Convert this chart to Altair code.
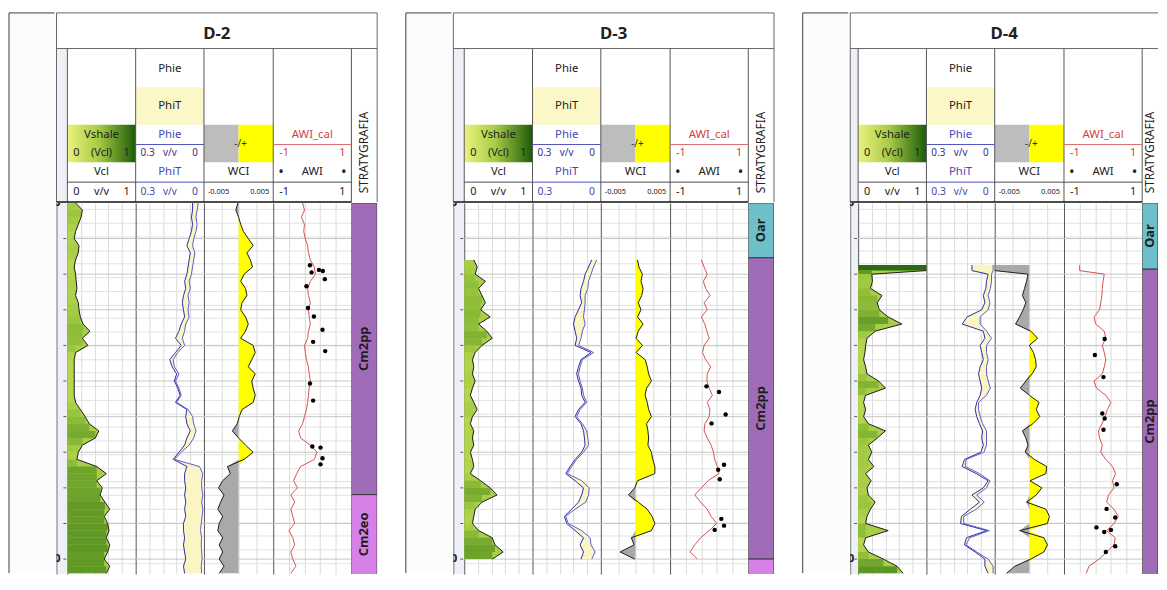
import altair as alt
import numpy as np
import pandas as pd

FONT = "Noto Sans"
STEP = 2.0
D_TOP, D_BOT = 1400.0, 1504.2
LOG_H = 375
HDR_H = 191
FRAME_W = 46

# ---------------- D-2 ----------------
D2_START = 1400.0
D2_VCL = [.12, .22, .20, .16, .12, .10, .17, .16, .12, .10,
          .12, .13, .14, .12, .16, .17, .19, .23, .33, .22,
          .30, .12, .10, .10, .10, .10, .10, .10, .12, .19,
          .26, .32, .46, .41, .22, .16, .14, .43, .57, .43,
          .51, .48, .55, .62, .54, .59, .61, .57, .62, .59,
          .54, .62, .57]
D2_PHIT = [.05, .05, .055, .05, .055, .065, .075, .06, .065, .07,
           .075, .085, .08, .09, .095, .09, .085, .10, .11, .125,
           .10, .125, .15, .14, .12, .13, .115, .105, .125, .075,
           .08, .075, .06, .075, .085, .11, .135, .075, .085, .085,
           .08, .085, .08, .085, .08, .09, .09, .085, .09, .085,
           .08, .09, .085]
D2_PHIE = [.025, .03, .035, .03, .035, .045, .05, .04, .045, .05,
           .055, .065, .06, .07, .065, .07, .065, .08, .085, .095,
           .085, .115, .135, .13, .11, .125, .11, .10, .12, .07,
           .05, .045, .035, .045, .065, .10, .13, .02, .005, .01,
           .01, .005, .01, .005, .008, .012, .015, .01, .012, .01,
           .008, .012, .01]
D2_WCI = [-0.0001, -0.0004, 0.0, 0.0003, 0.0007, 0.0014, 0.0021, 0.0012, 0.0017, 0.002,
          0.0008, 0.0003, 0.001, 0.0012, 0.0005, 0.0003, 0.001, 0.0014, 0.001, 0.0003,
          0.0021, 0.0024, 0.0019, 0.0014, 0.0024, 0.0019, 0.0021, 0.0024, 0.0021, 0.0005,
          0.0001, -0.0002, -0.0009, 0.0, 0.001, 0.0021, 0.0008, -0.0016, -0.0012, -0.0023,
          -0.0029, -0.0021, -0.0026, -0.003, -0.0023, -0.0028, -0.003, -0.0023, -0.0028, -0.0023,
          -0.0028, -0.0021, -0.0028]
D2_AWI_CAL = [-.25, -.2, -.28, -.2, -.22, -.18, -.12, -.1, -.05, .05,
              .08, -.05, -.12, -.1, -.05, -.1, -.08, -.05, -.1, -.12,
              -.2, -.18, -.15, -.1, -.08, -.05, -.08, -.1, -.12, -.15,
              -.2, -.25, -.35, -.3, -.05, .12, .05, -.3, -.4, -.48,
              -.38, -.55, -.45, -.55, -.5, -.45, -.6, -.5, -.45, -.55,
              -.5, -.42, -.55]
D2_AWI_DEPTH = [1417.5, 1418.8, 1419.1, 1419.5, 1421.4, 1423.4, 1429.5, 1431.9, 1435.6,
                1439.0, 1441.6, 1450.7, 1455.5, 1468.4, 1468.7, 1471.7, 1473.4]
D2_AWI = [-.06, .17, .27, -.02, .32, -.15, -.11, .04, .26, .02, .33, -.06, .02, 0.0, .21, .26, .21]
D2_STRAT_TOP = [1400.0, 1481.9]
D2_STRAT_BASE = [1481.9, 1510.0]
D2_STRAT_NAME = ["Cm2pp", "Cm2eo"]

# ---------------- D-3 ----------------
D3_START = 1416.0
D3_VCL = [.14, .19, .16, .31, .21, .26, .31, .24, .38, .21,
          .33, .41, .26, .16, .12, .14, .12, .16, .12, .09,
          .14, .19, .12, .09, .14, .12, .14, .09, .12, .14,
          .09, .24, .38, .48, .26, .16, .14, .12, .21, .41,
          .45, .57, .41]
D3_PHIT = [.04, .054, .069, .076, .087, .091, .084, .098, .113, .12,
           .113, .106, .113, .043, .087, .098, .106, .098, .087, .084,
           .069, .098, .113, .087, .076, .072, .069, .084, .113, .135,
           .154, .113, .076, .084, .098, .128, .16, .15, .113, .076,
           .091, .076, .087]
D3_PHIE = [.018, .032, .043, .054, .057, .069, .069, .072, .076, .069,
           .081, .087, .098, .032, .081, .091, .098, .091, .081, .076,
           .062, .091, .106, .081, .062, .057, .054, .076, .106, .128,
           .147, .084, .051, .054, .066, .113, .154, .143, .084, .047,
           .043, .025, .04]
D3_WCI = [.0003, .0005, .001, .0008, .0011, .0009, .0004, .0008, .0003, .0011,
          .0004, .0001, .001, .0001, .0014, .0017, .0019, .0023, .0016, .0014,
          .0017, .0019, .0023, .0016, .0018, .0019, .0018, .0023, .0025, .0028,
          .0028, .0003, -.0001, -.001, .0004, .0017, .0024, .0028, .0023, -.0006,
          -.0002, -.0022, -.0001]
D3_AWI_CAL = [-.2, -.13, -.05, -.15, -.09, .02, -.13, -.05, -.2, -.11,
              -.06, 0.0, -.13, -.17, -.09, .04, -.05, -.06, 0.0, .08,
              -.05, .02, 0.0, -.11, -.13, -.05, .05, .11, .14, .21,
              .25, -.03, -.2, -.37, -.22, -.05, .05, .19, 0.0, -.22,
              -.37, -.49, -.3]
D3_AWI_DEPTH = [1451.5, 1453.1, 1459.4, 1461.9, 1473.5, 1474.9, 1477.6, 1488.7, 1490.6, 1491.8]
D3_AWI = [-.07, .25, .42, .06, .38, .23, .27, .31, .38, .14]
D3_STRAT_TOP = [1400.0, 1415.4, 1500.0]
D3_STRAT_BASE = [1415.4, 1500.0, 1510.0]
D3_STRAT_NAME = ["Oar", "Cm2pp", "Cm2eo"]

# ---------------- D-4 ----------------
# first two samples: the full-scale bar at the top of the log
D4_DEPTH_HEAD = [1417.4, 1419.0]
D4_START = 1420.0
D4_VCL = [1.0, 1.0, .2, .21, .18, .35, .28, .31, .44, .64, .25,
          .13, .11, .1, .08, .11, .13, .3, .4, .11, .08,
          .11, .08, .15, .4, .28, .15, .2, .15, .23, .11,
          .19, .13, .15, .25, .18, .13, .11, .44, .11, .08,
          .15, .37, .57, .66]
D4_PHIT = [.1, .1, .029, .036, .039, .05, .043, .057, .121, .143, .05,
           .043, .064, .057, .05, .064, .071, .064, .057, .064, .079,
           .086, .079, .067, .053, .057, .05, .061, .133, .143, .081,
           .029, .05, .1, .067, .107, .146, .15, .036, .124, .133,
           .086, .043, .043, .029]
D4_PHIE = [.007, .007, .014, .014, .019, .029, .021, .029, .064, .064, .036,
           .014, .036, .036, .029, .036, .036, .029, .019, .036, .071,
           .071, .064, .053, .036, .036, .036, .047, .126, .129, .067,
           .021, .036, .079, .046, .081, .136, .136, .024, .11, .126,
           .079, .029, .007, .007]
D4_WCI = [-.005, -.005, -.0002, -.0004, -.0007, -.001, -.0005, -.0009, -.0014, -.002, .0002,
          .0012, 0.0, .0006, .0009, .001, .0004, -.0005, -.0013, 0.0, .0014,
          .001, .0015, .0005, -.001, -.0005, -.0002, -.0006, .0007, .0025, .0024,
          .0001, .0018, .001, -.0004, .0024, .0029, .0026, -.0014, .0021, .0026,
          .0021, .0002, -.0021, -.0033]
D4_AWI_CAL = [-.6, -.6, .03, 0.0, -.02, -.03, -.06, -.09, -.23, -.19, .03,
              .07, -.02, .03, .07, .03, -.02, -.23, -.17, .07, .2,
              .11, .05, -.03, -.12, -.09, -.02, -.06, .07, .24, .32,
              .24, .28, .14, .09, .28, .39, .28, .09, .31, .28,
              .09, -.1, -.36, -.43]
D4_AWI_DEPTH = [1438.2, 1442.7, 1448.9, 1459.1, 1460.5, 1463.7, 1479.0, 1485.9, 1488.3,
                1491.1, 1492.4, 1491.8, 1496.4, 1498.0]
D4_AWI = [.04, -.21, .01, -.02, .04, .01, .35, .09, .31, -.17, .03, .2, .31, .07]
D4_STRAT_TOP = [1400.0, 1418.6]
D4_STRAT_BASE = [1418.6, 1510.0]
D4_STRAT_NAME = ["Oar", "Cm2pp"]

# ---------------- layout / styling ----------------
MAJORS = [1410, 1420, 1430, 1440, 1450, 1460, 1470, 1480, 1490, 1500]
DEPTH_LABELS = [1400, 1500]
GRID_MINOR = [round(1440 + 3.82 * k, 2) for k in range(-10, 17)]
VCL_GRID = [0.2, 0.4, 0.6, 0.8]
PHI_GRID = [0.06, 0.12, 0.18, 0.24]
WCI_GRID = [-0.0025, 0.0, 0.0025]
AWI_GRID = [-0.6, -0.2, 0.2, 0.6]

YS = alt.Scale(domain=[D_TOP, D_BOT], reverse=True, nice=False, zero=False)
VCL_SCALE = alt.Scale(domain=[0, 0.25, 1], range=["#d2e55e", "#92c03a", "#2a6a10"])
STRAT_SCALE = alt.Scale(domain=["Oar", "Cm2pp", "Cm2eo"], range=["#6dbfc9", "#a06cb8", "#d680e8"])


def ye(field, grid=True):
    if grid:
        ax = alt.Axis(values=GRID_MINOR, grid=True, gridColor="#e2e2e2", labels=False,
                      ticks=False, domain=True, domainColor="#555555", title=None)
    else:
        ax = alt.Axis(grid=False, labels=False, ticks=False, domain=True,
                      domainColor="#777777", title=None)
    return alt.Y(field, scale=YS, axis=ax)


def xe(field, domain, grid_vals, reverse=False):
    return alt.X(field, scale=alt.Scale(domain=domain, reverse=reverse, nice=False, zero=False),
                 axis=alt.Axis(values=grid_vals, grid=True, gridColor="#dadada", labels=False,
                               ticks=False, domain=False, title=None))


def majors_layer():
    return alt.Chart(pd.DataFrame({"d": MAJORS})).mark_rule(
        color="#c6c6c6", strokeWidth=1).encode(y=ye("d:Q"))


def well_df(start, vcl, phit, phie, wci, awi, head=()):
    head = list(head)
    n = len(vcl) - len(head)
    depth = head + list(start + STEP * np.arange(n))
    return pd.DataFrame({"depth": depth, "vcl": vcl, "phit": phit,
                         "phie": phie, "wci": wci, "awi": awi})


def depth_col(w):
    ticks = alt.Chart(pd.DataFrame({"d": MAJORS})).mark_rule(color="#555555").encode(
        y=ye("d:Q", grid=False), x=alt.value(w - 4), x2=alt.value(w - 1))
    labels = alt.Chart(pd.DataFrame({"d": DEPTH_LABELS, "t": [str(v) for v in DEPTH_LABELS]})).mark_text(
        align="right", baseline="middle", fontSize=11, fontWeight="bold", font=FONT,
        color="#111111", clip=True).encode(y=ye("d:Q", grid=False), x=alt.value(4), text="t:N")
    return alt.layer(ticks, labels).properties(
        width=w, height=LOG_H, view=alt.ViewBackground(fill="#eff0f5", strokeWidth=0))


def vcl_track(df, w):
    base = alt.Chart(df)
    xv = lambda f: xe(f, [0, 1], VCL_GRID)
    area = base.transform_calculate(zero="0").mark_area(
        orient="horizontal", color="#a9cf48", clip=True).encode(
        y=ye("depth:Q"), x=xv("vcl:Q"), x2="zero:Q")
    rects = base.transform_window(
        vnext="lead(vcl)", dnext="lead(depth)", sort=[alt.SortField("depth")]
    ).transform_filter("isValid(datum.vnext)").transform_calculate(
        zero="0", vmin="min(datum.vcl, datum.vnext)", vmid="(datum.vcl + datum.vnext) / 2"
    ).mark_rect(clip=True).encode(
        y=ye("depth:Q"), y2="dnext:Q", x=xv("zero:Q"), x2="vmin:Q",
        color=alt.Color("vmid:Q", scale=VCL_SCALE, legend=None))
    line = base.mark_line(color="#1b1b1b", strokeWidth=1, clip=True).encode(
        y=ye("depth:Q"), x=xv("vcl:Q"), order="depth:Q")
    return alt.layer(majors_layer(), area, rects, line).properties(width=w, height=LOG_H)


def phi_track(df, w):
    base = alt.Chart(df)
    xp = lambda f: xe(f, [0, 0.3], PHI_GRID, reverse=True)
    fill = base.mark_area(orient="horizontal", color="#fbf5c4", clip=True).encode(
        y=ye("depth:Q"), x=xp("phit:Q"), x2="phie:Q")
    lt = base.mark_line(color="#2c2ca8", strokeWidth=1, clip=True).encode(
        y=ye("depth:Q"), x=xp("phit:Q"), order="depth:Q")
    le = base.mark_line(color="#5a5ad0", strokeWidth=1, clip=True).encode(
        y=ye("depth:Q"), x=xp("phie:Q"), order="depth:Q")
    return alt.layer(majors_layer(), fill, lt, le).properties(width=w, height=LOG_H)


def wci_track(df, w):
    base = alt.Chart(df).transform_calculate(
        zero="0", pos="max(datum.wci, 0)", neg="min(datum.wci, 0)")
    xw = lambda f: xe(f, [-0.005, 0.005], WCI_GRID)
    pos = base.mark_area(orient="horizontal", color="#ffff00", clip=True).encode(
        y=ye("depth:Q"), x=xw("pos:Q"), x2="zero:Q")
    neg = base.mark_area(orient="horizontal", color="#a9a9a9", clip=True).encode(
        y=ye("depth:Q"), x=xw("neg:Q"), x2="zero:Q")
    line = base.mark_line(color="#1b1b1b", strokeWidth=1, clip=True).encode(
        y=ye("depth:Q"), x=xw("wci:Q"), order="depth:Q")
    return alt.layer(majors_layer(), pos, neg, line).properties(width=w, height=LOG_H)


def awi_track(df, pts, w):
    xa = lambda f: xe(f, [-1, 1], AWI_GRID)
    line = alt.Chart(df).mark_line(color="#d45252", strokeWidth=1, clip=True).encode(
        y=ye("depth:Q"), x=xa("awi:Q"), order="depth:Q")
    dots = alt.Chart(pts).mark_circle(size=20, color="#000000", opacity=1, clip=True).encode(
        y=ye("depth:Q"), x=xa("awi:Q"))
    return alt.layer(majors_layer(), line, dots).properties(width=w, height=LOG_H)


def strat_track(tops, bases, names, w, lab_x):
    df = pd.DataFrame({"top": tops, "base": bases, "name": names})
    rect = alt.Chart(df).mark_rect(stroke="#3a3a3a", strokeWidth=1, clip=True).encode(
        y=alt.Y("top:Q", scale=YS, axis=None), y2="base:Q",
        color=alt.Color("name:N", scale=STRAT_SCALE, legend=None))
    text = alt.Chart(df).transform_calculate(
        vt=f"max(datum.top, {D_TOP})", vb=f"min(datum.base, {D_BOT})"
    ).transform_calculate(mid="(datum.vt + datum.vb) / 2", vis="datum.vb - datum.vt"
    ).transform_filter("datum.vis > 8").mark_text(
        angle=270, fontSize=13, fontWeight="bold", font=FONT, color="#1d1d1d",
        baseline="middle", align="center", clip=True).encode(
        y=alt.Y("mid:Q", scale=YS, axis=None), x=alt.value(lab_x), text="name:N")
    return alt.layer(rect, text).properties(width=w, height=LOG_H)


def header_chart(title, widths, cut_right, phit_vv=True):
    W = float(sum(widths))
    edges = np.concatenate([[0.0], np.cumsum(widths).astype(float)])
    L, R = edges[:-1], edges[1:]
    C = (L + R) / 2
    xs = alt.Scale(domain=[0, W], nice=False, zero=False)
    ys = alt.Scale(domain=[0, HDR_H], reverse=True, nice=False, zero=False)
    X = lambda f: alt.X(f, scale=xs, axis=None)
    Y = lambda f: alt.Y(f, scale=ys, axis=None)

    rects = pd.DataFrame([
        (0, R[0], 36, HDR_H, "#eff0f5"),
        (L[2], R[2], 75, 113, "#fcf7c6"),
        (L[3], C[3], 113, 151, "#bdbdbd"),
        (C[3], R[3], 113, 151, "#ffff00"),
    ], columns=["x", "x2", "y", "y2", "c"])
    grad = pd.DataFrame({"x": [L[1]], "x2": [R[1]], "y": [113], "y2": [151]})

    blue, red, dark = "#5050c0", "#dd6a6a", "#4a4a4a"
    rules = [(0, W, 0, 0, "#666666", 1), (0, W, 36, 36, "#666666", 1),
             (0, 0, 0, HDR_H, "#666666", 1)]
    if not cut_right:
        rules.append((W, W, 0, HDR_H, "#666666", 1))
    for i in range(5):
        rules.append((R[i], R[i], 36, HDR_H, "#555555", 1))
    rules += [(L[2], R[2], 133, 133, blue, 1), (L[4], R[4], 133, 133, red, 1),
              (L[1], R[1], 171, 171, dark, 1), (L[2], R[2], 171, 171, blue, 1),
              (L[3], R[3], 171, 171, dark, 1), (L[4], R[4], 171, 171, dark, 1),
              (0, R[4], HDR_H, HDR_H, "#111111", 1.5)]
    rules = pd.DataFrame(rules, columns=["x", "x2", "y", "y2", "c", "sw"])

    k, navy = "#222222", "#33338f"
    tb = "#4848b4"
    texts = [
        ("center", C[2], 57, "Phie", k, 11.5), ("center", C[2], 94, "PhiT", k, 11.5),
        ("center", C[3] + 2, 132, "-/+", "#333333", 10),
        ("center", C[1], 123, "Vshale", k, 11.5),
        ("left", L[1] + 6, 142, "0", k, 11), ("center", C[1], 142, "(Vcl)", k, 11),
        ("right", R[1] - 6, 142, "1", k, 11),
        ("center", C[2], 123, "Phie", tb, 11.5),
        ("left", L[2] + 5, 142, "0.3", navy, 10), ("center", C[2], 142, "v/v", navy, 10),
        ("right", R[2] - 6, 142, "0", navy, 10),
        ("center", C[4], 123, "AWI_cal", "#cf4242", 11.5),
        ("left", L[4] + 6, 142, "-1", "#cf4242", 11), ("right", R[4] - 6, 142, "1", "#cf4242", 11),
        ("center", C[1], 161, "Vcl", k, 11.5), ("center", C[2], 161, "PhiT", tb, 11.5),
        ("center", C[3], 161, "WCI", k, 11.5),
        ("left", L[4] + 5, 161, "•", k, 15), ("center", C[4], 161, "AWI", k, 11.5),
        ("right", R[4] - 5, 161, "•", k, 15),
        ("left", L[1] + 6, 181, "0", k, 11), ("center", C[1], 181, "v/v", k, 11),
        ("right", R[1] - 6, 181, "1", k, 11),
        ("left", L[2] + 5, 181, "0.3", tb, 10.5), ("right", R[2] - 6, 181, "0", tb, 10.5),
        ("left", L[3] + 4, 181, "-0.005", k, 7.5), ("right", R[3] - 4, 181, "0.005", k, 7.5),
        ("left", L[4] + 6, 181, "-1", k, 11), ("right", R[4] - 6, 181, "1", k, 11),
    ]
    if phit_vv:
        texts.append(("center", C[2], 181, "v/v", tb, 10))
    texts = pd.DataFrame(texts, columns=["a", "x", "y", "t", "c", "s"])

    layers = [
        alt.Chart(rects).mark_rect().encode(x=X("x:Q"), x2="x2:Q", y=Y("y:Q"), y2="y2:Q",
                                            color=alt.Color("c:N", scale=None)),
        alt.Chart(grad).mark_rect(color=alt.Gradient(
            gradient="linear",
            stops=[alt.GradientStop(color="#eaf27e", offset=0),
                   alt.GradientStop(color="#a8cc45", offset=0.45),
                   alt.GradientStop(color="#1c5a0a", offset=1)],
            x1=0, x2=1, y1=0, y2=0)).encode(x=X("x:Q"), x2="x2:Q", y=Y("y:Q"), y2="y2:Q"),
        alt.Chart(rules).mark_rule().encode(x=X("x:Q"), x2="x2:Q", y=Y("y:Q"), y2="y2:Q",
                                            color=alt.Color("c:N", scale=None),
                                            strokeWidth=alt.StrokeWidth("sw:Q", scale=None)),
    ]
    for a in ["left", "center", "right"]:
        sub = texts[texts["a"] == a]
        layers.append(alt.Chart(sub).mark_text(align=a, baseline="middle", font=FONT).encode(
            x=X("x:Q"), y=Y("y:Q"), text="t:N", color=alt.Color("c:N", scale=None),
            size=alt.Size("s:Q", scale=None)))
    tx = W / 2
    layers.append(alt.Chart(pd.DataFrame({"x": [tx], "y": [21], "t": [title]})).mark_text(
        fontSize=17, fontWeight="bold", font=FONT, color="#222222", baseline="middle",
        align="center").encode(x=X("x:Q"), y=Y("y:Q"), text="t:N"))
    sx = L[5] + min(13.0, (R[5] - L[5]) / 2)
    layers.append(alt.Chart(pd.DataFrame({"x": [sx], "y": [141], "t": ["STRATYGRAFIA"]})).mark_text(
        angle=270, fontSize=12, font=FONT, color="#222222", baseline="middle",
        align="center", clip=True).encode(x=X("x:Q"), y=Y("y:Q"), text="t:N"))
    return alt.layer(*layers).properties(width=W, height=HDR_H)


def frame_chart():
    H = HDR_H + LOG_H
    df = pd.DataFrame({"x": [0, 0], "x2": [0, FRAME_W], "y": [0, 0], "y2": [H, 0]})
    xs = alt.Scale(domain=[0, FRAME_W], nice=False, zero=False)
    ys = alt.Scale(domain=[0, H], reverse=True, nice=False, zero=False)
    return alt.Chart(df).mark_rule(color="#3c3c3c", strokeWidth=1).encode(
        x=alt.X("x:Q", scale=xs, axis=None), x2="x2:Q",
        y=alt.Y("y:Q", scale=ys, axis=None), y2="y2:Q").properties(
        width=FRAME_W, height=H, view=alt.ViewBackground(fill="#fcfcfc", strokeWidth=0))


def panel(title, df, pts, strat, widths, cut_right=False, phit_vv=True):
    dw, w1, w2, w3, w4, w5 = widths
    lab_x = min(13.0, w5 / 2)
    logs = alt.hconcat(depth_col(dw), vcl_track(df, w1), phi_track(df, w2), wci_track(df, w3),
                       awi_track(df, pts, w4), strat_track(*strat, w5, lab_x),
                       spacing=0, bounds="flush")
    body = alt.vconcat(header_chart(title, widths, cut_right, phit_vv), logs, spacing=0)
    return alt.hconcat(frame_chart(), body, spacing=0)


df2 = well_df(D2_START, D2_VCL, D2_PHIT, D2_PHIE, D2_WCI, D2_AWI_CAL)
df3 = well_df(D3_START, D3_VCL, D3_PHIT, D3_PHIE, D3_WCI, D3_AWI_CAL)
df4 = well_df(D4_START, D4_VCL, D4_PHIT, D4_PHIE, D4_WCI, D4_AWI_CAL, head=D4_DEPTH_HEAD)
p2 = pd.DataFrame({"depth": D2_AWI_DEPTH, "awi": D2_AWI})
p3 = pd.DataFrame({"depth": D3_AWI_DEPTH, "awi": D3_AWI})
p4 = pd.DataFrame({"depth": D4_AWI_DEPTH, "awi": D4_AWI})

W_STD = [11, 69, 69, 70, 79, 26]
W_D4 = [8, 69, 69, 70, 79, 16]

chart = alt.hconcat(
    panel("D-2", df2, p2, (D2_STRAT_TOP, D2_STRAT_BASE, D2_STRAT_NAME), W_STD),
    panel("D-3", df3, p3, (D3_STRAT_TOP, D3_STRAT_BASE, D3_STRAT_NAME), W_STD, phit_vv=False),
    panel("D-4", df4, p4, (D4_STRAT_TOP, D4_STRAT_BASE, D4_STRAT_NAME), W_D4, cut_right=True),
    spacing=27,
).properties(
    padding={"left": 0, "top": 1, "right": 0, "bottom": 0}
).configure_view(strokeWidth=0)

chart.save("out.html", embed_options={"renderer": "svg", "actions": False})
